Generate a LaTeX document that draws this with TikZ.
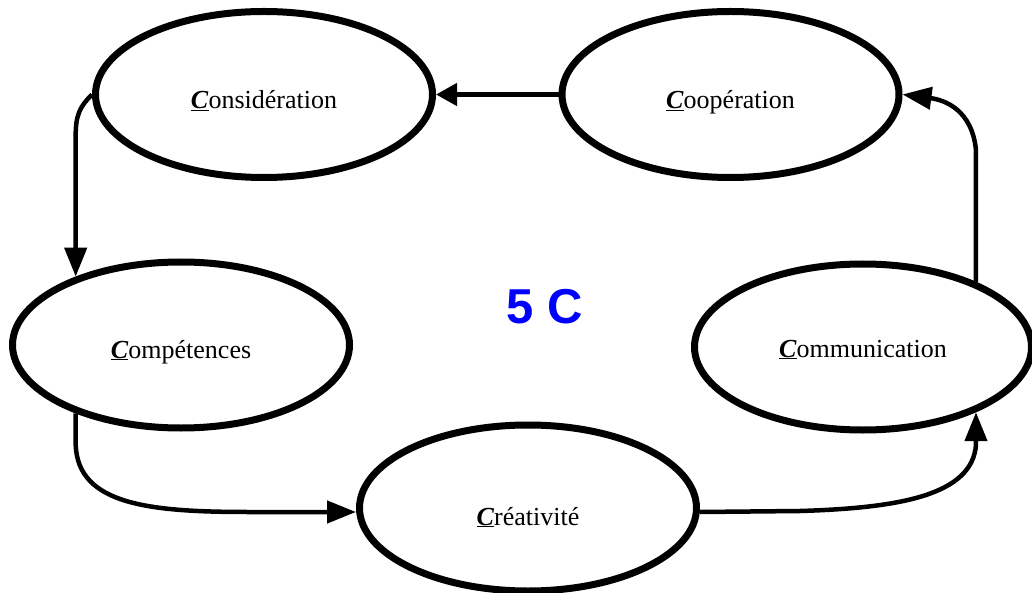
\documentclass[tikz,border=0pt]{standalone}
\usepackage{fontspec}
\setmainfont{Liberation Serif}
\newfontfamily\arialfont{Liberation Sans}
\usetikzlibrary{shapes.geometric,arrows.meta}
\definecolor{fiveblue}{RGB}{0,0,255}
\newcommand{\capC}{\underline{\textbf{\textit{C}}}}
\newcommand{\lowtext}[2]{\smash{\raisebox{-#1}{#2}}}
\begin{document}
\begin{tikzpicture}[x=1pt,y=-1pt,
  bub/.style={ellipse,draw,line width=7pt,minimum width=337pt,minimum height=166pt,
    inner sep=0pt,font=\fontsize{26}{30}\selectfont},
  conn/.style={line width=4.5pt,-{Triangle[length=29pt,width=22pt]}},
  shortconn/.style={line width=4.5pt,-{Triangle[length=21pt,width=22pt]}},
  title/.style={font=\arialfont\bfseries\fontsize{49}{56}\selectfont,text=fiveblue}
]
\useasboundingbox (0,0) rectangle (1032,593);
\node[bub] (cons) at (264,94.5) {\lowtext{14pt}{\capC onsidération}};
\node[bub] (coop) at (730.5,94.5) {\lowtext{14pt}{\capC oopération}};
\node[bub] (comp) at (181,345) {\lowtext{13pt}{\capC ompétences}};
\node[bub] (comm) at (863,347) {\lowtext{10pt}{\capC ommunication}};
\node[bub] (crea) at (528,508) {\lowtext{17pt}{\capC réativité}};
\node[title] (five) at (545,307) {5 C};

\draw[shortconn] (coop.west) -- (cons.east);
\draw[conn] (cons.west) .. controls +(-12,12) and +(0,-20) .. (comp.147 |- 0,135) -- (comp.147);
\draw[conn] (comp.213) -- (comp.213 |- 0,445) .. controls (78,505) and (150,512) .. (250,512) -- (crea.west |- 0,512);
\draw[conn] (crea.east |- 0,512) -- (800,511) .. controls (900,508) and (972,495) .. (comm.-30 |- 0,445) -- (comm.-30);
\draw[conn] (comm.30) -- (comm.30 |- 0,150) .. controls (972,110) and (945,100) .. (coop.east);
\end{tikzpicture}
\end{document}
